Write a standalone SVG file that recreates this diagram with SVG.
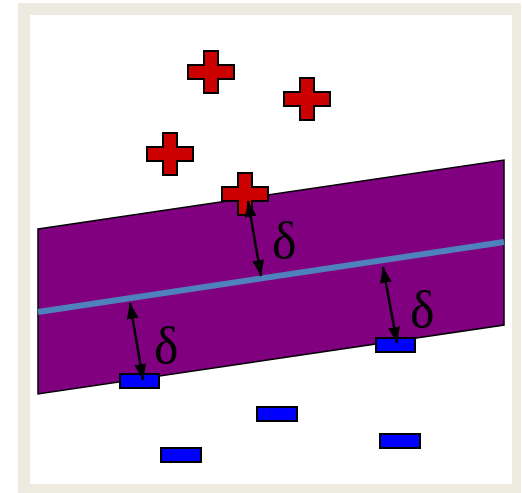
<svg xmlns="http://www.w3.org/2000/svg" width="522" height="493" viewBox="0 0 522 493">
<style>
.plus{fill:#CC0000;stroke:#000;stroke-width:2}
.neg{fill:#0000FF;stroke:#000;stroke-width:2}
.arr{stroke:#000;stroke-width:2.5;fill:none;marker-start:url(#ah);marker-end:url(#ah)}
.lbl{font-family:"Liberation Serif","DejaVu Serif",serif;font-size:52px;fill:#000}
</style>
<defs>
<marker id="ah" viewBox="0 0 16 12" refX="16" refY="6" markerWidth="16" markerHeight="12" orient="auto-start-reverse" markerUnits="userSpaceOnUse">
<path d="M0,0 L16,6 L0,12 z" fill="#000"/>
</marker>
<path id="plusShape" d="M-7,-21 H7 V-7 H23 V7 H7 V21 H-7 V7 H-23 V-7 H-7 Z"/>
</defs>
<rect x="18" y="3" width="503" height="490" fill="#EDEBE0"/>
<rect x="30" y="15" width="482" height="469" fill="#FFFFFF"/>
<g id="margin">
<polygon points="38,229 504,160 504,325 38,394" fill="#800080" stroke="#000" stroke-width="1.5"/>
</g>
<g id="hyperplane">
<line x1="38" y1="312" x2="504" y2="242" stroke="#4F81BD" stroke-width="6"/>
</g>
<g id="pos1"><use href="#plusShape" class="plus" transform="translate(211,72)"/></g>
<g id="pos2"><use href="#plusShape" class="plus" transform="translate(307,99)"/></g>
<g id="pos3"><use href="#plusShape" class="plus" transform="translate(170,154)"/></g>
<g id="pos4"><use href="#plusShape" class="plus" transform="translate(245,194)"/></g>
<g id="neg1"><rect class="neg" x="120" y="374" width="39" height="14"/></g>
<g id="neg2"><rect class="neg" x="376" y="338" width="39" height="14"/></g>
<g id="neg3"><rect class="neg" x="257" y="407" width="40" height="14"/></g>
<g id="neg4"><rect class="neg" x="380" y="434" width="40" height="14"/></g>
<g id="neg5"><rect class="neg" x="161" y="448" width="40" height="14"/></g>
<g id="connectors">
<line class="arr" x1="248" y1="201" x2="261" y2="276"/>
<line class="arr" x1="130" y1="303" x2="143" y2="380"/>
<line class="arr" x1="383" y1="267" x2="397" y2="343"/>
</g>
<g id="labels">
<text class="lbl" x="272" y="258">δ</text>
<text class="lbl" x="154" y="363">δ</text>
<text class="lbl" x="410" y="327">δ</text>
</g>
</svg>
